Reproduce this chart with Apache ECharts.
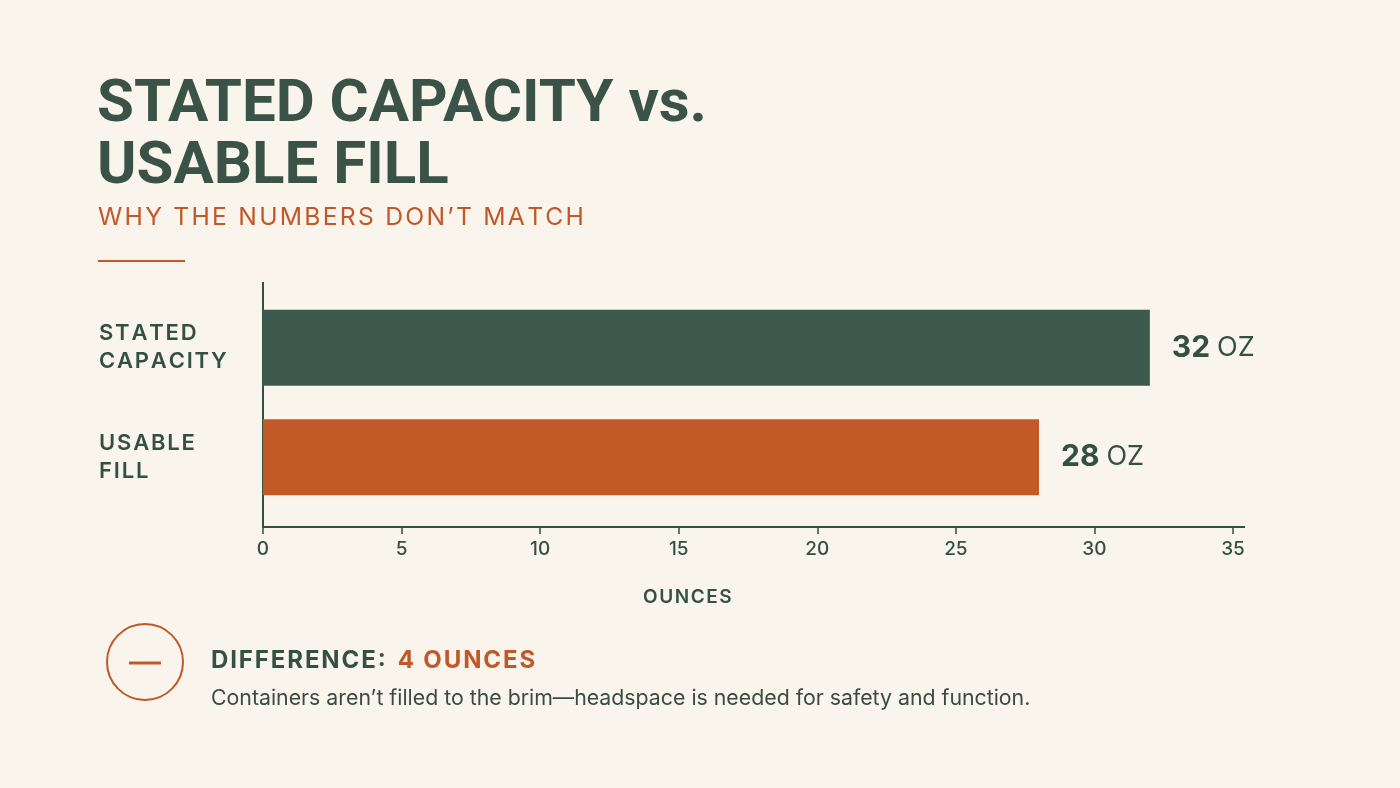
<!DOCTYPE html>
<html>
<head>
<meta charset="utf-8">
<title>Stated Capacity vs. Usable Fill</title>
<script src="https://cdn.jsdelivr.net/npm/echarts@6/dist/echarts.min.js"></script>
<style>
  html, body { margin: 0; padding: 0; background: #faf5ec; }
  #chart { width: 1400px; height: 788px; }
</style>
</head>
<body>
<div id="chart"></div>
<script>
const categories = ['STATED\nCAPACITY', 'USABLE\nFILL']
const values = [32, 28]
const barColors = ['#3d5a4d', '#c25a28']
const xTicks = [0, 5, 10, 15, 20, 25, 30, 35]

const green = '#34503f'
const orange = '#c0582a'
const font = 'Inter, "Noto Sans", sans-serif'

// canvas text has no letter-spacing here, so spread capitals with hair spaces
const track = s => s.split('\n').map(l => Array.from(l).join('\u200A')).join('\n')

const chart = echarts.init(document.getElementById('chart'))

const option = {
  backgroundColor: '#faf5ec',
  animation: false,
  title: [
    {
      text: 'STATED CAPACITY vs.\nUSABLE FILL',
      left: 97,
      top: 75,
      padding: 0,
      textStyle: {
        fontFamily: 'Roboto, Inter, sans-serif',
        fontWeight: 'bold',
        fontSize: 60,
        lineHeight: 62,
        color: '#3b5246'
      }
    },
    {
      text: track('WHY THE NUMBERS DON\u2019T MATCH'),
      left: 98,
      top: 205,
      padding: 0,
      textStyle: {
        fontFamily: font,
        fontWeight: 'normal',
        fontSize: 24.7,
        color: orange
      }
    },
    {
      text: track('OUNCES'),
      left: 643,
      top: 588,
      padding: 0,
      textStyle: {
        fontFamily: font,
        fontWeight: 600,
        fontSize: 19,
        color: green
      }
    },
    {
      text: '{a|' + track('DIFFERENCE:') + '}{b|' + track('4 OUNCES') + '}',
      left: 211,
      top: 649,
      padding: 0,
      textStyle: {
        rich: {
          a: { fontFamily: font, fontWeight: 'bold', fontSize: 24, color: green },
          b: { fontFamily: font, fontWeight: 'bold', fontSize: 24, color: orange, padding: [0, 0, 0, 12] }
        }
      }
    },
    {
      text: 'Containers aren\u2019t filled to the brim\u2014headspace is needed for safety and function.',
      left: 211,
      top: 688,
      padding: 0,
      textStyle: {
        fontFamily: font,
        fontWeight: 'normal',
        fontSize: 21.3,
        color: '#3b4a42'
      }
    }
  ],
  grid: {
    left: 263,
    right: 167,
    top: 293,
    bottom: 276
  },
  xAxis: {
    type: 'value',
    min: 0,
    max: 35,
    interval: 5,
    offset: 15,
    axisLine: { show: false },
    axisTick: { show: true, length: 7, lineStyle: { color: green, width: 1.5 } },
    splitLine: { show: false },
    axisLabel: {
      margin: 13,
      fontFamily: font,
      fontSize: 19,
      fontWeight: 500,
      color: green,
      formatter: v => xTicks.includes(v) ? String(v) : ''
    }
  },
  yAxis: {
    type: 'category',
    data: categories,
    inverse: true,
    axisLine: { show: false },
    axisTick: { show: false },
    axisLabel: {
      align: 'left',
      margin: 164,
      fontFamily: font,
      fontSize: 22,
      fontWeight: 600,
      lineHeight: 28,
      color: green,
      formatter: v => track(v)
    }
  },
  series: [
    {
      type: 'bar',
      data: values.map((v, i) => ({ value: v, itemStyle: { color: barColors[i] } })),
      barWidth: 76,
      label: {
        show: true,
        position: 'right',
        distance: 22,
        formatter: p => '{n|' + p.value + '}{u|OZ}',
        rich: {
          n: { fontFamily: font, fontWeight: 'bold', fontSize: 30, color: '#34503f' },
          u: { fontFamily: font, fontWeight: 'normal', fontSize: 27, color: '#34503f', padding: [0, 0, 0, 7] }
        }
      }
    }
  ],
  graphic: [
    { type: 'line', shape: { x1: 263, y1: 282, x2: 263, y2: 528 }, style: { stroke: green, lineWidth: 2 } },
    { type: 'line', shape: { x1: 262, y1: 527, x2: 1245, y2: 527 }, style: { stroke: green, lineWidth: 2 } },
    { type: 'line', shape: { x1: 98, y1: 261, x2: 185, y2: 261 }, style: { stroke: orange, lineWidth: 2 } },
    { type: 'circle', shape: { cx: 145, cy: 662, r: 38 }, style: { fill: 'none', stroke: orange, lineWidth: 2 } },
    { type: 'line', shape: { x1: 129, y1: 663, x2: 161, y2: 663 }, style: { stroke: orange, lineWidth: 3 } }
  ]
}

chart.setOption(option)

window.addEventListener('resize', () => chart.resize())
</script>
</body>
</html>
